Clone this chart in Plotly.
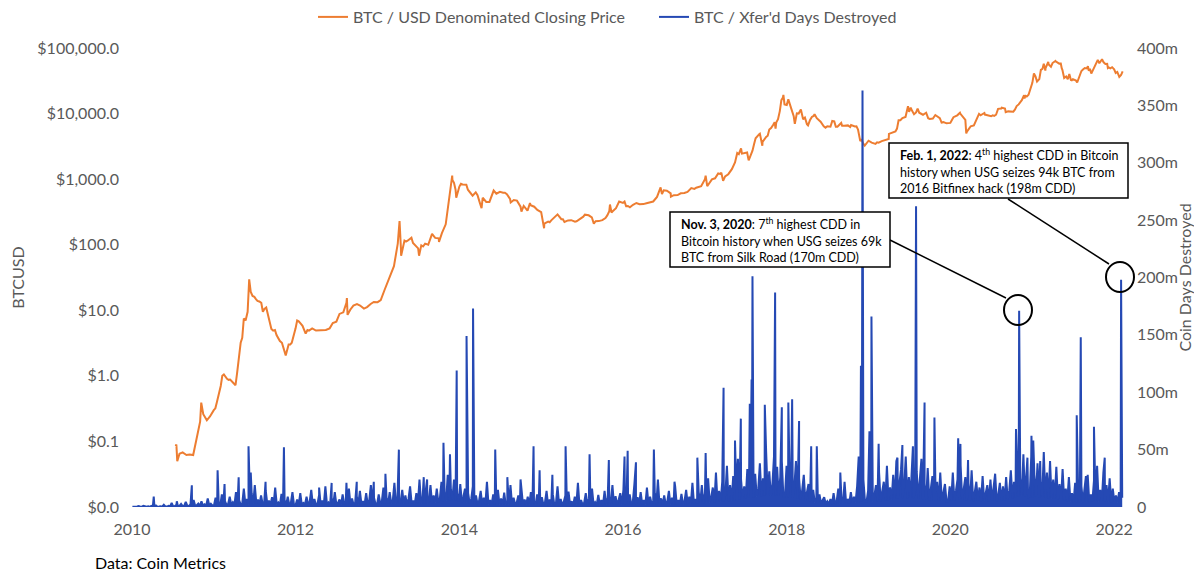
import pandas as pd
import plotly.graph_objects as go

FONT = "Lato, 'Open Sans', Arial"
GREY = "#595959"
ORANGE = "#ED7D31"
BLUE = "#2549B4"

# ── BTC closing price (USD), semi-monthly readings from 2010-07-15 ──────────
price_start = "2010-07-15"
price_vals = [
    # 2010 (Jul15 -> Dec15)
    0.085, 0.065, 0.068, 0.062, 0.063, 0.062, 0.105, 0.2, 0.26, 0.21, 0.24,
    # 2011
    0.3, 0.4, 0.7, 1.05, 0.9, 0.88, 0.78, 1.1, 3.2, 7.5, 9.5, 19,
    16, 13.9, 13, 10.5, 8.2, 5.2, 5.0, 3.8, 3.2, 2.3, 3.0, 3.2,
    # 2012
    5.3, 6.8, 5.8, 4.4, 4.9, 5.3, 4.9, 4.95, 5.0, 5.0, 5.3, 6.4,
    6.7, 8.8, 9.3, 13.0, 10.2, 11.8, 12.4, 11.8, 10.6, 11.2, 12.5, 13.4,
    # 2013
    13.3, 14.3, 20.4, 27, 34, 47, 104, 90, 116, 115, 128, 100,
    88, 98, 104, 100, 146, 127, 125, 150, 205, 430, 970, 690,
    # 2014
    770, 830, 820, 650, 560, 630, 450, 520, 450, 450, 630, 600,
    640, 620, 590, 500, 480, 470, 380, 390, 330, 400, 380, 340,
    # 2015
    315, 210, 225, 235, 260, 290, 245, 222, 235, 237, 225, 236,
    258, 287, 281, 262, 228, 229, 237, 255, 325, 320, 360, 455,
    # 2016
    434, 386, 373, 406, 433, 415, 416, 430, 448, 456, 536, 695,
    675, 665, 606, 570, 572, 608, 615, 640, 730, 711, 755, 780,
    # 2017
    1000, 820, 990, 1030, 1220, 1250, 1100, 1190, 1420, 1800, 2400, 2450,
    2500, 1930, 2720, 4200, 4900, 3700, 4400, 5700, 6700, 7300, 10900, 17600,
    # 2018
    13500, 13800, 9100, 10100, 10900, 8200, 6900, 8000, 9200, 8500, 7500, 6400,
    6400, 6300, 7600, 6300, 7200, 6500, 6600, 6700, 6350, 5700, 4100, 3250,
    # 2019
    3850, 3600, 3450, 3600, 3800, 3900, 4100, 5100, 5350, 7900, 8550, 8900,
    10600, 10900, 10400, 10300, 9600, 10300, 8300, 8400, 9200, 8500, 7400, 7100,
    # 2020
    7200, 8800, 9400, 9900, 8500, 5300, 6400, 6600, 8800, 9400, 10200, 9450,
    9100, 9200, 11800, 11900, 11900, 10800, 10600, 11500, 13800, 16000, 18700, 19400,
    # 2021
    29400, 36800, 33500, 47900, 49600, 55900, 59000, 62500, 57800, 46600, 36700, 40200,
    33500, 31800, 39900, 47000, 48800, 48100, 48200, 61600, 61300, 60400, 57200, 48900,
    # 2022
    47300, 43100, 38700,
]

# highs, lows and swings that fall between the semi-monthly readings
price_extra = [
    ("2010-07-18", 0.09), ("2010-07-22", 0.05), ("2010-11-06", 0.39),
    ("2011-01-08", 0.32), ("2011-02-08", 1.0), ("2011-03-08", 0.87), ("2011-04-08", 0.72),
    ("2011-05-08", 3.8), ("2011-05-23", 7.0), ("2011-06-08", 29.6), ("2011-06-23", 16.5),
    ("2011-07-08", 14.8), ("2011-07-23", 13.6), ("2011-08-08", 9.5), ("2011-08-23", 11.0),
    ("2011-09-08", 6.5), ("2011-09-23", 4.9), ("2011-10-08", 4.2), ("2011-10-23", 3.4),
    ("2011-11-18", 2.05), ("2011-12-08", 3.0), ("2011-12-23", 3.9),
    ("2012-01-08", 7.0), ("2012-01-23", 6.3), ("2012-02-23", 5.0), ("2012-08-17", 15.4),
    ("2012-08-20", 8.5),
    ("2013-04-09", 230), ("2013-04-16", 68), ("2013-05-08", 112), ("2013-06-08", 106),
    ("2013-07-05", 68), ("2013-07-23", 94), ("2013-10-02", 110), ("2013-11-08", 310),
    ("2013-11-23", 810), ("2013-11-30", 1130), ("2013-12-08", 880), ("2013-12-18", 520),
    ("2014-01-08", 850), ("2014-02-08", 690), ("2014-02-23", 600), ("2014-03-23", 570),
    ("2014-04-10", 360), ("2014-05-23", 520), ("2014-06-03", 670), ("2014-07-23", 620),
    ("2014-08-18", 440), ("2014-10-05", 320), ("2014-11-12", 430), ("2014-12-23", 330),
    ("2015-01-14", 178), ("2015-02-08", 220), ("2015-03-08", 275), ("2015-04-08", 245),
    ("2015-06-08", 228), ("2015-07-08", 268), ("2015-08-24", 210), ("2015-10-23", 280),
    ("2015-11-04", 410), ("2015-11-11", 310), ("2015-12-23", 440),
    ("2016-01-08", 455), ("2016-01-23", 390), ("2016-06-17", 750), ("2016-06-23", 590),
    ("2016-08-02", 540), ("2016-11-23", 740),
    ("2017-01-04", 1130), ("2017-01-11", 780), ("2017-03-10", 1200), ("2017-03-23", 940),
    ("2017-05-25", 2500), ("2017-06-11", 2950), ("2017-07-08", 2550), ("2017-08-08", 3400),
    ("2017-09-03", 4950), ("2017-09-14", 3230), ("2017-10-08", 4600), ("2017-10-23", 6000),
    ("2017-11-08", 7400), ("2017-11-12", 5900), ("2017-11-23", 8200), ("2017-12-08", 16000),
    ("2017-12-17", 19300), ("2017-12-22", 13800),
    ("2018-01-08", 16500), ("2018-01-23", 10900), ("2018-02-06", 6950), ("2018-02-23", 10000),
    ("2018-03-05", 11500), ("2018-03-23", 8700), ("2018-04-06", 6600), ("2018-04-23", 8900),
    ("2018-05-05", 9800), ("2018-06-23", 6100), ("2018-07-23", 7700), ("2018-08-08", 6300),
    ("2018-09-05", 6500), ("2018-10-11", 6250), ("2018-11-08", 6400), ("2018-11-25", 3800),
    ("2018-12-08", 3500),
    ("2019-02-08", 3650), ("2019-04-02", 4900), ("2019-05-08", 5900), ("2019-05-23", 7900),
    ("2019-06-26", 12900), ("2019-07-08", 12300), ("2019-07-23", 9800), ("2019-08-08", 11900),
    ("2019-09-24", 8500), ("2019-10-26", 9500), ("2019-11-08", 8800), ("2019-11-23", 7300),
    ("2019-12-18", 7150),
    ("2020-01-08", 8000), ("2020-02-13", 10300), ("2020-03-08", 8000), ("2020-03-12", 4970),
    ("2020-03-23", 5800), ("2020-05-08", 9900), ("2020-06-03", 9650), ("2020-07-08", 9400),
    ("2020-07-23", 9600), ("2020-08-17", 12300), ("2020-09-04", 10500), ("2020-10-08", 10700),
    ("2020-10-23", 13000), ("2020-11-25", 19000), ("2020-11-27", 17000), ("2020-12-08", 18300),
    ("2021-01-08", 40800), ("2021-01-22", 30800), ("2021-02-08", 46300), ("2021-02-21", 57500),
    ("2021-02-28", 45200), ("2021-03-13", 61100), ("2021-03-25", 51700), ("2021-04-14", 63500),
    ("2021-05-08", 58000), ("2021-05-12", 49100), ("2021-05-23", 34800), ("2021-06-08", 33500),
    ("2021-06-22", 32500), ("2021-06-26", 32200), ("2021-07-08", 32900), ("2021-07-20", 29800),
    ("2021-08-08", 44600), ("2021-08-23", 49500), ("2021-09-06", 52700), ("2021-09-10", 44900),
    ("2021-09-21", 40700), ("2021-10-08", 53900), ("2021-10-20", 65900), ("2021-10-27", 58400),
    ("2021-11-08", 67500), ("2021-11-23", 57000), ("2021-12-04", 49400), ("2021-12-08", 50500),
    ("2021-12-23", 51000),
    ("2022-01-08", 41600), ("2022-01-24", 36200), ("2022-02-06", 42400), ("2022-02-08", 44000),
]

# ── Coin days destroyed (millions), weekly readings from 2010-01-03 ─────────
cdd_start = "2010-01-03"
cdd_base = [
    # 2010
    0.2, 0.5, 0.3, 0.4, 0.8, 0.2, 0.3, 1.1, 0.4, 0.3, 0.6, 0.2, 0.9, 0.3, 0.5, 1.4, 0.3, 0.4,
    0.7, 0.3, 2.0, 0.5, 0.4, 1.0, 0.6, 3.5, 0.5, 0.8, 1.8, 0.6, 0.9, 2.6, 0.7, 1.2, 4.5, 0.9,
    1.0, 2.2, 0.8, 6.0, 1.1, 1.5, 3.0, 1.0, 5.0, 1.2, 2.4, 1.1, 7.5, 1.3, 2.8, 1.2,
    # 2011
    1.5, 8.0, 2.0, 3.5, 1.6, 11.0, 2.2, 5.0, 1.8, 2.6, 9.0, 2.0, 4.2, 1.7, 13.0, 2.4, 6.0, 2.1,
    3.0, 16.0, 2.5, 7.0, 2.2, 4.5, 12.0, 2.8, 19.0, 3.0, 6.5, 2.4, 10.0, 2.6, 3.8, 14.0, 2.3, 5.5,
    2.0, 8.5, 2.5, 17.0, 2.2, 4.0, 1.9, 11.5, 2.3, 6.0, 1.8, 9.0, 2.1, 3.5, 13.0, 1.9,
    # 2012
    1.7, 6.5, 2.0, 12.0, 1.6, 3.5, 2.2, 9.0, 1.8, 4.8, 15.0, 2.0, 7.0, 1.7, 3.2, 10.5, 2.1, 5.5,
    1.9, 18.0, 2.3, 4.0, 2.0, 8.0, 1.8, 13.0, 2.2, 3.6, 6.5, 2.0, 11.0, 2.4, 4.5, 2.1, 16.0, 2.3,
    7.5, 2.0, 3.8, 9.5, 2.2, 14.0, 2.5, 5.0, 2.3, 12.0, 2.6, 6.0, 19.0, 2.4, 8.0, 2.7,
    # 2013
    2.6, 11.0, 3.0, 5.0, 17.0, 2.8, 8.0, 3.2, 13.0, 2.9, 6.0, 21.0, 3.1, 9.0, 3.4, 4.5, 15.0, 3.0,
    10.0, 2.8, 7.0, 18.0, 3.2, 5.5, 3.0, 12.0, 3.4, 24.0, 3.1, 8.5, 3.3, 14.0, 3.0, 6.0, 19.0, 3.5,
    10.0, 3.8, 16.0, 4.2, 7.5, 22.0, 4.8, 13.0, 5.5, 28.0, 6.0, 15.0, 7.0, 24.0, 5.5, 12.0,
    # 2014
    5.0, 20.0, 4.5, 9.0, 16.0, 3.8, 12.0, 3.2, 7.0, 18.0, 2.8, 10.0, 2.6, 5.5, 14.0, 2.4, 8.0, 2.5,
    22.0, 2.2, 6.0, 2.3, 11.0, 2.1, 4.5, 15.0, 2.2, 7.5, 2.0, 12.5, 2.1, 5.0, 2.0, 19.0, 1.9, 8.0,
    2.2, 4.0, 10.0, 2.0, 16.0, 1.9, 6.5, 2.1, 9.0, 2.0, 13.0, 1.8, 5.0, 2.1, 11.0, 1.9,
    # 2015
    1.8, 8.5, 2.0, 4.0, 14.0, 1.7, 6.5, 1.9, 11.0, 1.6, 3.5, 18.0, 1.8, 7.0, 1.9, 4.5, 10.0, 1.6,
    13.5, 1.8, 5.0, 1.7, 9.0, 2.0, 21.0, 1.7, 6.0, 1.8, 3.8, 12.0, 1.9, 7.5, 1.7, 16.0, 1.9, 4.2,
    2.0, 10.5, 2.1, 6.0, 1.9, 14.0, 2.2, 8.0, 2.0, 5.0, 19.0, 2.1, 9.5, 2.3, 6.5, 12.0,
    # 2016
    2.2, 15.0, 2.4, 7.0, 2.1, 11.0, 2.5, 4.5, 20.0, 2.3, 8.5, 2.6, 13.0, 2.4, 6.0, 2.2, 17.0, 2.5,
    9.0, 2.7, 5.0, 12.0, 2.4, 24.0, 2.6, 7.5, 2.3, 10.0, 2.5, 4.8, 14.0, 2.2, 8.0, 2.4, 18.0, 2.3,
    6.0, 2.5, 11.5, 2.2, 5.5, 15.0, 2.6, 9.0, 2.8, 21.0, 3.0, 7.0, 3.3, 13.0, 3.6, 19.0,
    # 2017
    3.5, 12.0, 3.8, 25.0, 4.0, 9.0, 17.0, 4.2, 30.0, 4.4, 14.0, 4.8, 22.0, 5.0, 11.0, 36.0, 5.2, 19.0,
    5.5, 27.0, 6.0, 15.0, 42.0, 6.5, 24.0, 7.0, 18.0, 7.5, 33.0, 8.0, 21.0, 45.0, 8.5, 29.0, 9.0, 16.0,
    38.0, 9.5, 25.0, 10.0, 48.0, 10.5, 31.0, 9.8, 20.0, 44.0, 10.2, 35.0, 9.6, 26.0, 40.0, 9.0,
    # 2018
    9.0, 36.0, 8.6, 22.0, 30.0, 8.0, 18.0, 40.0, 7.2, 25.0, 6.8, 15.0, 28.0, 5.5, 12.0, 20.0, 4.8, 9.0,
    15.0, 4.0, 7.5, 3.6, 11.0, 3.2, 6.0, 8.5, 2.8, 5.0, 2.6, 7.0, 2.5, 12.0, 2.7, 5.5, 16.0, 2.9,
    8.0, 3.1, 22.0, 3.0, 7.0, 3.4, 13.0, 3.6, 9.0, 4.0, 18.0, 4.2, 11.0, 4.8, 24.0, 5.0,
    # 2019
    4.6, 14.0, 5.0, 26.0, 4.8, 10.0, 19.0, 5.2, 30.0, 5.0, 13.0, 22.0, 5.6, 36.0, 6.0, 17.0, 6.5, 28.0,
    7.0, 40.0, 7.4, 21.0, 33.0, 7.8, 18.0, 44.0, 7.5, 26.0, 8.0, 38.0, 7.6, 15.0, 31.0, 7.0, 24.0, 42.0,
    6.6, 20.0, 6.2, 34.0, 5.8, 16.0, 27.0, 5.5, 12.0, 22.0, 5.2, 30.0, 5.4, 14.0, 20.0, 5.0,
    # 2020
    5.0, 18.0, 5.6, 30.0, 6.0, 14.0, 24.0, 6.4, 36.0, 6.2, 16.0, 26.0, 5.6, 20.0, 5.8, 32.0, 5.2, 13.0,
    22.0, 5.4, 17.0, 5.0, 27.0, 5.6, 12.0, 19.0, 5.0, 24.0, 5.4, 15.0, 29.0, 5.2, 11.0, 21.0, 5.6, 18.0,
    6.0, 26.0, 6.8, 14.0, 32.0, 7.6, 22.0, 8.4, 40.0, 9.0, 25.0, 9.8, 46.0, 9.2, 30.0, 8.6,
    # 2021
    9.0, 44.0, 8.6, 28.0, 9.2, 38.0, 8.2, 22.0, 8.8, 48.0, 8.0, 30.0, 7.6, 40.0, 7.2, 24.0, 7.8, 35.0,
    6.8, 20.0, 6.2, 33.0, 5.8, 16.0, 5.2, 26.0, 4.8, 12.0, 4.4, 21.0, 4.0, 9.0, 4.2, 18.0, 4.0, 14.0,
    4.6, 28.0, 4.4, 11.0, 5.0, 23.0, 5.2, 36.0, 4.8, 15.0, 5.4, 30.0, 5.0, 19.0, 4.6, 25.0,
    # 2022
    4.2, 16.0, 4.5, 10.0, 4.0, 13.0, 4.6, 8.0,
]

# single-day spikes
spike_dates = [
    "2010-04-08", "2010-07-20", "2010-09-25", "2011-01-18", "2011-02-18", "2011-04-22",
    "2011-06-05", "2011-06-15", "2011-08-20", "2011-11-10", "2012-04-15", "2012-06-10",
    "2012-08-15", "2012-09-30", "2012-12-15", "2013-02-05", "2013-04-06", "2013-07-26",
    "2013-08-10", "2013-10-22", "2013-11-20", "2013-12-20", "2014-02-02", "2014-03-03",
    "2014-06-10", "2014-08-03", "2014-10-01", "2014-11-28", "2014-12-25", "2015-02-20",
    "2015-04-20", "2015-08-05", "2015-10-30", "2016-01-08", "2016-01-22", "2016-02-28",
    "2016-05-18", "2016-08-18", "2016-11-28", "2017-01-04", "2017-03-25", "2017-05-15",
    "2017-06-10", "2017-07-20", "2017-07-28", "2017-08-01", "2017-09-25", "2017-11-10",
    "2017-12-10", "2018-01-08", "2018-01-25", "2018-02-25", "2018-04-20", "2018-05-15",
    "2018-08-28", "2018-11-18", "2018-11-28", "2018-12-05", "2019-01-05", "2019-01-14",
    "2019-02-15", "2019-05-10", "2019-06-01", "2019-07-18", "2019-08-01", "2019-09-08",
    "2019-10-22", "2020-02-05", "2020-02-15", "2020-03-20", "2020-10-20", "2020-11-03",
    "2020-12-10", "2020-12-28", "2021-01-05", "2021-02-05", "2021-03-20", "2021-07-18",
    "2021-08-05", "2021-08-28", "2021-10-03", "2021-11-20", "2022-02-01",
]
spike_vals = [
    9, 5, 19, 32, 20, 26,
    53, 30, 22, 52, 17, 21,
    21, 22, 22, 29, 50, 26,
    24, 56, 46, 119, 149, 173,
    50, 26, 24, 53, 32, 28,
    53, 46, 41, 44, 49, 39,
    50, 22, 43, 47, 104, 58,
    77, 90, 111, 201, 89, 187,
    87, 91, 94, 75, 53, 53,
    30, 44, 123, 363, 66, 166,
    55, 43, 54, 53, 262, 91,
    78, 60, 55, 41, 68, 171,
    43, 62, 58, 40, 40, 80,
    148, 27, 70, 43, 198,
]

# call-out texts
note_nov = (
    "<b>Nov. 3, 2020</b>: 7<sup>th</sup> highest CDD in<br>"
    "Bitcoin history when USG seizes 69k<br>"
    "BTC from Silk Road (170m CDD)"
)
note_feb = (
    "<b>Feb. 1, 2022</b>: 4<sup>th</sup> highest CDD in Bitcoin<br>"
    "history when USG seizes 94k BTC from<br>"
    "2016 Bitfinex hack (198m CDD)"
)

# ── Build the series ────────────────────────────────────────────────────────
price = pd.concat([
    pd.DataFrame({"date": pd.date_range(price_start, periods=len(price_vals), freq="SMS"),
                  "v": price_vals}),
    pd.DataFrame({"date": pd.to_datetime([d for d, _ in price_extra]),
                  "v": [v for _, v in price_extra]}),
]).sort_values("date")

cdd = pd.concat([
    pd.DataFrame({"date": pd.date_range(cdd_start, periods=len(cdd_base), freq="7D"),
                  "v": cdd_base}),
    pd.DataFrame({"date": pd.to_datetime(spike_dates), "v": spike_vals}),
]).sort_values("date")

fig = go.Figure()
fig.add_trace(go.Scatter(
    x=price["date"], y=price["v"], mode="lines",
    line=dict(color=ORANGE, width=2),
    name="BTC / USD Denominated Closing Price",
))
# solid body under the daily noise, then the line itself
fig.add_trace(go.Scatter(
    x=cdd["date"], y=cdd["v"], mode="lines", yaxis="y2",
    line=dict(width=0), fill="tozeroy", fillcolor=BLUE,
    showlegend=False, hoverinfo="skip",
))
fig.add_trace(go.Scatter(
    x=cdd["date"], y=cdd["v"], mode="lines", yaxis="y2",
    line=dict(color=BLUE, width=2),
    name="BTC / Xfer'd Days Destroyed",
))

# ── Layout (page pixels; the page body adds an 8px margin) ──────────────────
PAGE_OFF = 8
W, H = 1202 - 2 * PAGE_OFF, 572 - PAGE_OFF
L, R, T, B = 132, 1124, 48, 507          # plot area, page pixels

def px(x):
    return (x - L) / (R - L)

def py(y):
    return (B - y) / (B - T)

price_ticks = [0.01, 0.1, 1, 10, 100, 1000, 10000, 100000]
price_ticktext = ["$0.0", "$0.1", "$1.0", "$10.0", "$100.0", "$1,000.0", "$10,000.0", "$100,000.0"]
cdd_ticks = [0, 50, 100, 150, 200, 250, 300, 350, 400]
cdd_ticktext = ["0"] + [f"{v}m" for v in cdd_ticks[1:]]

fig.update_layout(
    width=W, height=H,
    margin=dict(l=L - PAGE_OFF, r=W - (R - PAGE_OFF), t=T - PAGE_OFF,
                b=H - (B - PAGE_OFF), autoexpand=False),
    plot_bgcolor="white", paper_bgcolor="white",
    font=dict(family=FONT, size=16, color=GREY),
    legend=dict(orientation="h", xref="container", yref="container",
                x=(313 - PAGE_OFF) / W, xanchor="left",
                y=1 - (17 - PAGE_OFF) / H, yanchor="middle",
                entrywidth=296, font=dict(size=16, color=GREY),
                bgcolor="rgba(0,0,0,0)"),
    xaxis=dict(
        type="date", range=["2010-01-01", "2022-02-14"],
        tickvals=[f"{y}-01-01" for y in range(2010, 2023, 2)],
        ticktext=[str(y) for y in range(2010, 2023, 2)],
        showgrid=False, zeroline=False, showline=False, ticks="",
        ticklabelstandoff=11,
        tickfont=dict(size=16, color=GREY),
    ),
    yaxis=dict(
        type="log", range=[-2, 5],
        tickvals=price_ticks, ticktext=price_ticktext,
        showgrid=False, zeroline=False, showline=False, ticks="",
        ticklabelstandoff=12,
        tickfont=dict(size=16, color=GREY),
        title=dict(text="BTCUSD", font=dict(size=16, color=GREY), standoff=8),
    ),
    yaxis2=dict(
        overlaying="y", side="right", range=[0, 400],
        tickvals=cdd_ticks, ticktext=cdd_ticktext,
        showgrid=False, zeroline=False, showline=False, ticks="",
        ticklabelstandoff=12,
        tickfont=dict(size=16, color=GREY),
        title=dict(text="Coin Days Destroyed", font=dict(size=16, color=GREY), standoff=14),
    ),
    showlegend=True,
)

# ── Call-out boxes, leader lines and circles ────────────────────────────────
for x0, y0, x1, y1 in [(890, 240, 1006, 298), (1008, 199, 1109, 264)]:
    fig.add_shape(type="line", xref="paper", yref="paper",
                  x0=px(x0), y0=py(y0), x1=px(x1), y1=py(y1),
                  line=dict(color="black", width=1.5))

for cx, cy in [(1018, 310), (1120, 277)]:
    fig.add_shape(type="circle", xref="paper", yref="paper",
                  xsizemode="pixel", ysizemode="pixel",
                  xanchor=px(cx), yanchor=py(cy), x0=-14, x1=14, y0=-15, y1=15,
                  line=dict(color="black", width=2))

for (bx0, by0, bx1, by1), tx, text in [
    ((670, 212, 890, 267), 679, note_nov),
    ((889, 143, 1128, 198), 898, note_feb),
]:
    fig.add_shape(type="rect", xref="paper", yref="paper",
                  x0=px(bx0), y0=py(by0), x1=px(bx1), y1=py(by1),
                  fillcolor="white", line=dict(color="black", width=1.5))
    fig.add_annotation(
        text=text, xref="paper", yref="paper",
        x=px(tx), y=py((by0 + by1) / 2), xanchor="left", yanchor="middle",
        align="left", showarrow=False,
        font=dict(family=FONT, size=12.5, color="black"),
    )

fig.add_annotation(
    text="Data: Coin Metrics", xref="paper", yref="paper",
    x=px(93), y=py(562), xanchor="left", yanchor="middle",
    showarrow=False, font=dict(family=FONT, size=16, color="black"),
)

fig.write_html("out.html")
